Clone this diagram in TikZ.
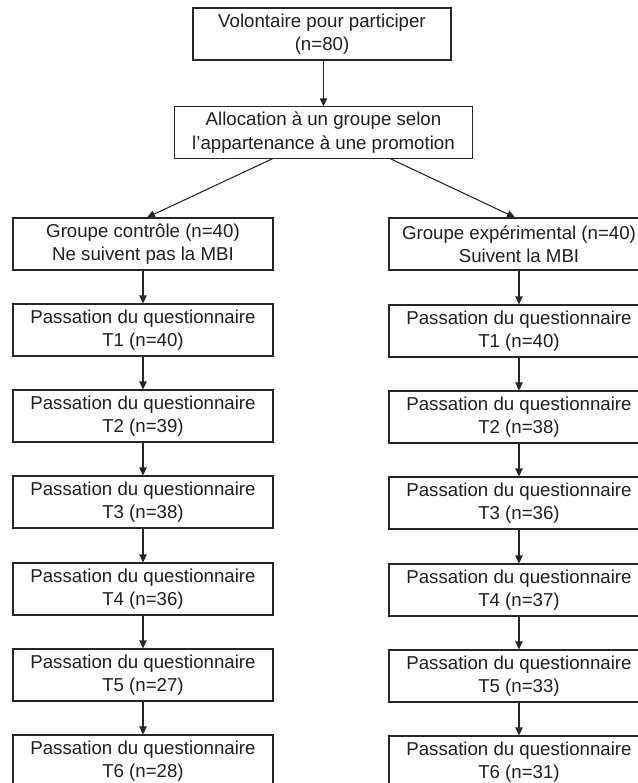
\documentclass[tikz,border=0pt]{standalone}
\usepackage{fontspec}
\setmainfont{Liberation Sans}
\usetikzlibrary{arrows.meta,calc}
\begin{document}
\begin{tikzpicture}[x=0.75pt,y=-0.75pt,
  box/.style={draw=black!85, line width=0.8pt, align=center, inner sep=0pt,
    minimum width=195pt, minimum height=39pt,
    font=\fontsize{14}{17.4}\selectfont, text=black!88},
  arr/.style={draw=black!85, line width=0.8pt, -{Triangle[length=6pt,width=5.5pt]}}]
\useasboundingbox (0,0) rectangle (638,783);
\clip (0,0) rectangle (638,783);
\node[box, minimum width=193.5pt] (top) at (322,34) {Volontaire pour participer\\(n=80)};
\node[box, minimum width=224pt, minimum height=38.5pt] (alloc) at (323.5,132.5) {Allocation à un groupe selon\\l'appartenance à une promotion};
\node[box] (gL) at (143,244) {Groupe contrôle (n=40)\\Ne suivent pas la MBI};
\node[box] (gR) at (519,244) {Groupe expérimental (n=40)\\Suivent la MBI};
\node[box] (L1) at (143,330) {Passation du questionnaire\\T1 (n=40)};
\node[box] (L2) at (143,416) {Passation du questionnaire\\T2 (n=39)};
\node[box] (L3) at (143,502) {Passation du questionnaire\\T3 (n=38)};
\node[box] (L4) at (143,589) {Passation du questionnaire\\T4 (n=36)};
\node[box] (L5) at (143,675) {Passation du questionnaire\\T5 (n=27)};
\node[box] (L6) at (143,761) {Passation du questionnaire\\T6 (n=28)};
\node[box] (R1) at (519,331) {Passation du questionnaire\\T1 (n=40)};
\node[box] (R2) at (519,417) {Passation du questionnaire\\T2 (n=38)};
\node[box] (R3) at (519,503) {Passation du questionnaire\\T3 (n=36)};
\node[box] (R4) at (519,590) {Passation du questionnaire\\T4 (n=37)};
\node[box] (R5) at (519,676) {Passation du questionnaire\\T5 (n=33)};
\node[box] (R6) at (519,762) {Passation du questionnaire\\T6 (n=31)};
\draw[arr] (top.south -| alloc.north) -- (alloc.north);
\draw[arr] ($(alloc.south west)!0.33!(alloc.south east)$) -- ($(gL.north)+(4,0)$);
\draw[arr] ($(alloc.south west)!0.723!(alloc.south east)$) -- ($(gR.north)+(-4,0)$);
\draw[arr] (gL) -- (L1);
\draw[arr] (L1) -- (L2);
\draw[arr] (L2) -- (L3);
\draw[arr] (L3) -- (L4);
\draw[arr] (L4) -- (L5);
\draw[arr] (L5) -- (L6);
\draw[arr] (gR) -- (R1);
\draw[arr] (R1) -- (R2);
\draw[arr] (R2) -- (R3);
\draw[arr] (R3) -- (R4);
\draw[arr] (R4) -- (R5);
\draw[arr] (R5) -- (R6);
\end{tikzpicture}
\end{document}
